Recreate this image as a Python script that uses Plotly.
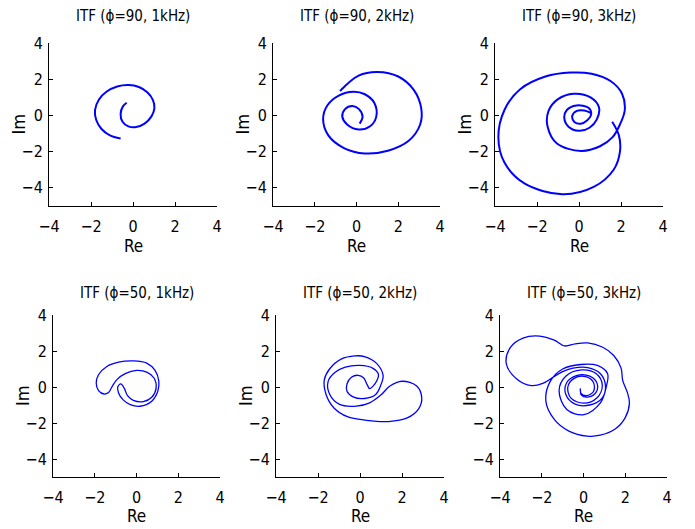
import plotly.graph_objects as go

# the page body adds an 8 px margin, so the figure is drawn 8 px smaller and all pixel
# positions below are shifted by that offset
OFF = 8
W, H = 695 - OFF, 529 - OFF

titles = ["ITF (\u03d5=90, 1kHz)", "ITF (\u03d5=90, 2kHz)", "ITF (\u03d5=90, 3kHz)",
          "ITF (\u03d5=50, 1kHz)", "ITF (\u03d5=50, 2kHz)", "ITF (\u03d5=50, 3kHz)"]
tick_vals = [-4, -2, 0, 2, 4]
x_label = "Re"
y_label = "Im"

re_90_1k = [-0.30, -0.48, -0.59, -0.50, -0.22, 0.15, 0.55, 0.88, 1.02, 0.95, 0.68, 0.28, -0.20, -0.75,
            -1.25, -1.62, -1.81, -1.75, -1.50, -1.10, -0.59]
im_90_1k = [0.70, 0.50, 0.08, -0.35, -0.60, -0.64, -0.45, -0.05, 0.40, 0.85, 1.28, 1.57, 1.68, 1.60,
            1.32, 0.88, 0.30, -0.25, -0.75, -1.10, -1.27]

re_90_2k = [0.15, 0.29, 0.12, -0.20, -0.55, -0.68, -0.45, 0.10, 0.65, 0.95, 0.85, 0.40, -0.15, -0.85,
            -1.40, -1.60, -1.35, -0.60, 0.40, 1.50, 2.50, 3.05, 3.10, 2.75, 2.00, 1.00, 0.10, -0.79]
im_90_2k = [-0.45, -0.07, 0.35, 0.52, 0.35, -0.07, -0.50, -0.78, -0.60, -0.05, 0.70, 1.17, 1.31, 1.10,
            0.55, -0.20, -1.10, -1.80, -2.10, -1.95, -1.40, -0.50, 0.40, 1.40, 2.15, 2.40, 2.20, 1.35]

re_90_3k = [0.60, 0.25, -0.10, -0.32, -0.22, 0.08, 0.38, 0.58, 0.45, -0.12, -0.58, -0.70, -0.50, 0.00,
            0.50, 0.85, 0.95, 0.55, -0.25, -1.00, -1.45, -1.50, -1.05, 0.10, 1.00, 1.60, 1.95, 2.18,
            2.05, 1.50, 0.60, -0.40, -1.60, -2.80, -3.55, -3.84, -3.55, -2.60, -0.80, 0.70, 1.65, 1.95,
            1.90, 1.58]
im_90_3k = [0.12, 0.27, 0.25, -0.02, -0.36, -0.46, -0.28, 0.08, 0.42, 0.55, 0.30, -0.15, -0.62, -0.85,
            -0.68, -0.22, 0.45, 1.00, 1.20, 0.90, 0.25, -0.60, -1.55, -1.96, -1.70, -1.20, -0.50, 0.30,
            1.20, 1.90, 2.30, 2.37, 2.15, 1.45, 0.30, -1.20, -2.60, -3.75, -4.35, -3.95, -3.00, -2.00,
            -1.10, -0.35]

re_50_1k = [-0.75, -0.59, -0.43, -0.15, 0.33, 0.73, 0.94, 0.84, 0.49, 0.00, -0.54, -0.94, -1.18, -1.34,
            -1.55, -1.82, -1.93, -1.82, -1.42, -0.86, -0.15, 0.49, 0.89, 1.07, 1.02, 0.73, 0.17, -0.30,
            -0.65, -0.86, -0.90, -0.75]
im_50_1k = [0.17, -0.06, -0.48, -0.74, -0.81, -0.57, -0.06, 0.50, 0.83, 0.92, 0.74, 0.41, 0.00, -0.30,
            -0.39, -0.20, 0.22, 0.68, 1.14, 1.38, 1.45, 1.33, 0.92, 0.31, -0.24, -0.79, -1.07, -0.98,
            -0.70, -0.33, 0.00, 0.17]

re_50_2k = [0.46, 0.34, 0.18, -0.09, -0.41, -0.62, -0.62, -0.33, 0.22, 0.75, 0.97, 1.10, 0.80, 0.25,
            -0.24, -0.90, -1.45, -1.70, -1.62, -1.25, -0.60, 0.30, 1.35, 2.25, 2.80, 2.94, 2.70, 2.00,
            1.41, 1.02, 0.46, -0.17, -0.97, -1.44, -1.52, -1.20, -0.70, 0.00, 0.60, 0.88, 0.80, 0.62, 0.46]
im_50_2k = [-0.09, 0.13, 0.50, 0.65, 0.54, 0.17, -0.24, -0.55, -0.64, -0.42, 0.04, 0.65, 1.30, 1.68,
            1.73, 1.55, 1.00, 0.39, -0.40, -1.15, -1.65, -1.85, -1.92, -1.72, -1.20, -0.60, 0.05, 0.32,
            0.04, -0.42, -0.88, -1.06, -0.97, -0.42, 0.30, 0.80, 1.10, 1.20, 1.05, 0.70, 0.35, 0.05, -0.09]

re_50_3k = [-0.15, -0.10, 0.25, 0.60, 0.65, 0.30, -0.30, -0.80, -0.85, -0.40, 0.30, 0.90, 1.05, 0.80,
            0.20, -0.50, -1.00, -1.45, -1.95, -2.50, -3.20, -3.70, -3.50, -2.90, -2.10, -1.40, -0.90,
            -0.40, 0.20, 0.90, 1.45, 1.80, 1.88, 2.10, 2.20, 2.00, 1.50, 0.80, 0.18, -0.70, -1.40, -1.80,
            -1.60, -1.00, -0.14, 0.66, 1.15, 1.10, 0.80, 0.02, -0.80, -1.17, -0.85, -0.10, 0.60, 0.90,
            0.65, 0.00, -0.60, -0.75, -0.45, 0.10, 0.48, 0.48, 0.15, -0.12, -0.15]
im_50_3k = [-0.10, -0.45, -0.55, -0.30, 0.20, 0.60, 0.65, 0.25, -0.40, -0.95, -1.00, -0.60, 0.10, 0.75,
            1.08, 1.05, 0.85, 0.55, 0.20, 0.08, 0.45, 1.30, 2.20, 2.72, 2.83, 2.60, 2.28, 2.40, 2.45,
            2.22, 1.75, 1.05, 0.35, -0.30, -0.90, -1.70, -2.35, -2.68, -2.73, -2.45, -1.80, -0.80, 0.30,
            1.00, 1.25, 1.20, 0.75, 0.05, -0.90, -1.54, -1.25, -0.20, 0.60, 0.95, 0.75, 0.10, -0.60,
            -0.90, -0.62, 0.00, 0.48, 0.58, 0.25, -0.25, -0.48, -0.35, -0.10]

series = [(re_90_1k, im_90_1k), (re_90_2k, im_90_2k), (re_90_3k, im_90_3k),
          (re_50_1k, im_50_1k), (re_50_2k, im_50_2k), (re_50_3k, im_50_3k)]

# axis boxes in window pixels (left, right, top, bottom)
boxes = [(49, 217, 43, 206), (273, 440, 43, 206), (495, 663, 43, 206),
         (53, 220, 315, 477), (276, 444, 315, 477), (500, 667, 315, 477)]
title_y = [16, 16, 16, 293, 293, 293]
re_y = [246, 246, 246, 516, 516, 516]

FONT = "DejaVu Sans Condensed, Liberation Sans Narrow, Liberation Sans, Arial, sans-serif"


def px(v):
    return (v - OFF) / W


def py(v):
    return 1 - (v - OFF) / H


fig = go.Figure()
layout = dict(width=W, height=H, margin=dict(l=0, r=0, t=0, b=0, pad=0, autoexpand=False),
              paper_bgcolor="white", plot_bgcolor="white", showlegend=False,
              font=dict(family=FONT, color="black"))
annotations = []

for i, ((xs, ys), (l, r, t, b)) in enumerate(zip(series, boxes)):
    n = "" if i == 0 else str(i + 1)
    width = 2.0 if i < 3 else 1.3
    fig.add_trace(go.Scatter(x=xs, y=ys, mode="lines", xaxis="x" + n, yaxis="y" + n,
                             line=dict(color="#0000ff", width=width, shape="spline", smoothing=1.0),
                             hoverinfo="skip"))
    common = dict(showline=True, linecolor="black", linewidth=1, showgrid=False, zeroline=False,
                  ticks="inside", ticklen=4, tickcolor="black", tickvals=tick_vals,
                  tickfont=dict(family=FONT, size=16, color="black"), mirror=False,
                  fixedrange=True, automargin=False)
    layout["xaxis" + n] = dict(domain=[px(l), px(r)], range=[-4, 4], anchor="y" + n,
                               ticklabelstandoff=6, **common)
    layout["yaxis" + n] = dict(domain=[py(b), py(t)], range=[-5, 4], anchor="x" + n,
                               ticklabelstandoff=2, **common)
    cx = px((l + r) / 2)
    annotations.append(dict(text=titles[i], x=cx, y=py(title_y[i]), xref="paper", yref="paper",
                            xanchor="center", yanchor="middle", showarrow=False,
                            font=dict(family=FONT, size=15, color="black")))
    annotations.append(dict(text=x_label, x=cx, y=py(re_y[i]), xref="paper", yref="paper",
                            xanchor="center", yanchor="middle", showarrow=False,
                            font=dict(family=FONT, size=17, color="black")))
    annotations.append(dict(text=y_label, x=px(l - 31), y=py((t + b) / 2), xref="paper",
                            yref="paper", xanchor="center", yanchor="middle", showarrow=False,
                            textangle=-90, font=dict(family=FONT, size=18, color="black")))

layout["annotations"] = annotations
fig.update_layout(**layout)
fig.write_html("out.html")
